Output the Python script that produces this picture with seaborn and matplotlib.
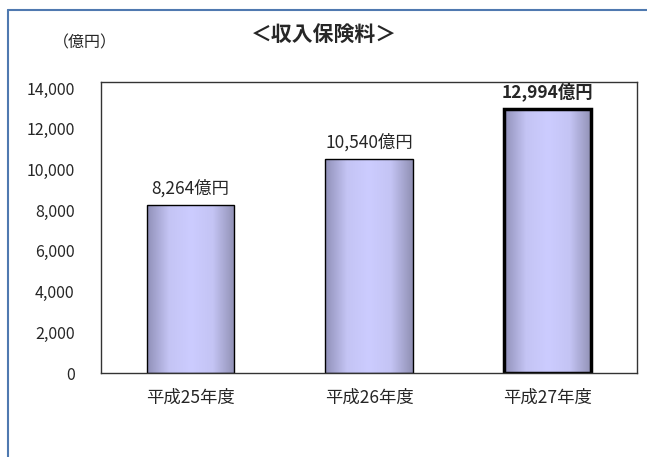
import numpy as np
import pandas as pd
import matplotlib.pyplot as plt
import seaborn as sns
from matplotlib.colors import LinearSegmentedColormap
from matplotlib.lines import Line2D

# データ
years = ['平成25年度', '平成26年度', '平成27年度']
premiums = [8264, 10540, 12994]
labels = ['8,264億円', '10,540億円', '12,994億円']

df = pd.DataFrame({'year': years, 'premium': premiums})

sns.set_style('white')
plt.rcParams['font.family'] = ['Noto Sans CJK JP', 'DejaVu Sans']

fig = plt.figure(figsize=(6.47, 4.57), dpi=100)
ax = fig.add_axes([101 / 647, 1 - 373 / 457, 536 / 647, 291 / 457])

sns.barplot(data=df, x='year', y='premium', color='#c8c8f8', width=0.49,
            edgecolor='black', linewidth=1.0, ax=ax)

# 横方向のグラデーション
cmap = LinearSegmentedColormap.from_list('bar', ['#9090b8', '#c4c4f4', '#ccccff', '#c4c4f4', '#9090b4'])
grad = np.linspace(0, 1, 256).reshape(1, -1)
for i, p in enumerate(ax.patches):
    x0, y0 = p.get_x(), p.get_y()
    w, h = p.get_width(), p.get_height()
    im = ax.imshow(grad, cmap=cmap, aspect='auto', extent=[x0, x0 + w, y0, y0 + h],
                   zorder=p.get_zorder() - 0.1)
    im.set_clip_path(p)
    p.set_facecolor('none')
    if i == 2:
        p.set_linewidth(2.5)

ax.set_xlim(-0.5, 2.5)
ax.set_ylim(0, 14300)
ax.set_yticks(range(0, 14001, 2000))
ax.set_yticklabels([f'{v:,}' for v in range(0, 14001, 2000)], fontsize=11.5)
ax.tick_params(axis='x', labelsize=12.5, pad=11, length=0)
ax.tick_params(axis='y', pad=19, length=0)
ax.set_xlabel('')
ax.set_ylabel('')
for s in ax.spines.values():
    s.set_color('#333333')
    s.set_linewidth(1.0)

for i, (v, t) in enumerate(zip(premiums, labels)):
    ax.annotate(t, (i, v), xytext=(0, 5), textcoords='offset points', ha='center',
                va='bottom', fontsize=12.5, fontweight='bold' if i == 2 else 'normal')

fig.text(324 / 647, 1 - 34 / 457, '＜収入保険料＞', ha='center', va='center',
         fontsize=15, fontweight='bold')
fig.text(85 / 647, 1 - 43 / 457, '（億円）', ha='center', va='center', fontsize=11.5)

# 外枠
fig.add_artist(Line2D([8 / 647, 8 / 647], [0, 1 - 10 / 457], color='#4f79b0', lw=1.5))
fig.add_artist(Line2D([8 / 647, 1], [1 - 10 / 457, 1 - 10 / 457], color='#4f79b0', lw=1.5))

fig.savefig('out.png', dpi=100)
